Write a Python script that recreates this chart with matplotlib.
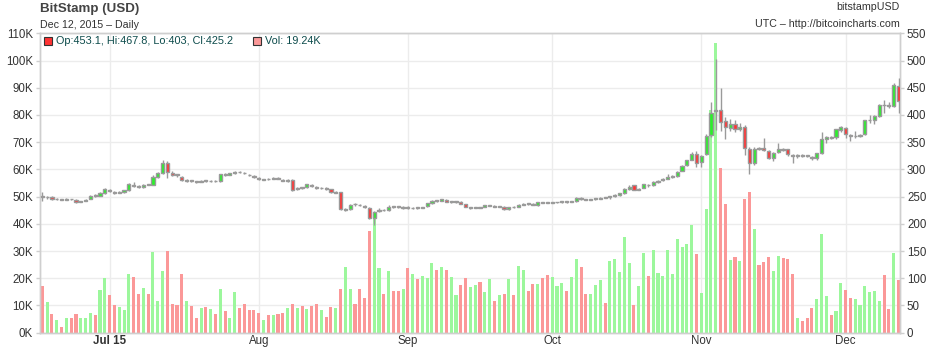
import matplotlib
matplotlib.use("Agg")
import matplotlib.pyplot as plt
import matplotlib.dates as mdates
from matplotlib.patches import Rectangle
import pandas as pd

plt.rcParams["font.family"] = ["Liberation Sans", "DejaVu Sans"]

# Daily BitStamp BTC/USD candles, 17 Jun 2015 - 12 Dec 2015
dates = pd.date_range("2015-06-17", "2015-12-12", freq="D")

opens = [
    249.9, 249.0, 249.9, 245.3, 244.8, 244.5, 245.8, 244.4, 240.7, 242.0,
    245.6, 252.0, 251.7, 257.2, 262.1, 258.5, 256.9, 258.5, 262.1, 271.9,
    269.0, 267.6, 272.2, 271.3, 286.6, 292.8, 311.1, 294.0, 290.0, 286.6,
    278.8, 279.2, 277.5, 277.0, 279.0, 278.3, 278.6, 278.0, 291.0, 290.5,
    292.6, 295.6, 294.0, 290.5, 287.6, 284.0, 281.3, 281.9, 282.9, 284.2,
    280.3, 278.0, 281.0, 263.7, 266.2, 266.8, 271.8, 267.5, 265.4, 266.4,
    263.3, 257.5, 257.8, 224.5, 226.5, 236.0, 235.0, 232.5, 229.6, 210.0,
    223.4, 225.5, 225.2, 231.5, 231.3, 229.8, 230.7, 228.5, 229.5, 229.5,
    232.5, 237.5, 242.8, 242.5, 243.7, 240.0, 240.1, 240.0, 235.7, 229.5,
    229.8, 230.2, 231.5, 233.5, 233.5, 231.2, 230.8, 226.6, 230.8, 231.5,
    235.5, 237.2, 236.5, 234.0, 239.5, 239.2, 238.5, 239.5, 240.0, 240.6,
    240.5, 241.7, 247.3, 245.0, 244.5, 245.7, 246.4, 248.8, 249.0, 250.5,
    253.0, 256.0, 264.5, 270.5, 262.7, 266.4, 271.5, 270.5, 276.6, 280.0,
    283.0, 285.5, 287.8, 297.7, 308.0, 318.0, 328.0, 314.1, 328.2, 362.4,
    408.0, 409.0, 389.5, 376.0, 383.4, 374.0, 378.5, 337.0, 311.0, 339.0,
    338.7, 333.6, 321.4, 332.0, 337.0, 336.9, 326.4, 325.0, 326.0, 325.0,
    322.8, 321.5, 329.5, 355.8, 359.0, 358.9, 372.4, 376.6, 363.0, 361.0,
    362.0, 364.4, 390.0, 390.7, 398.1, 418.0, 417.8, 416.6, 453.1,
]
highs = [
    257.8, 251.5, 251.0, 247.0, 246.0, 246.8, 246.5, 245.5, 242.8, 245.2,
    252.5, 254.0, 258.5, 266.5, 264.5, 260.5, 259.5, 263.0, 275.5, 276.5,
    271.0, 273.5, 274.0, 290.0, 296.0, 317.0, 315.0, 296.5, 292.0, 288.5,
    281.5, 280.5, 279.0, 280.0, 280.5, 280.0, 279.8, 292.0, 293.0, 294.0,
    297.5, 297.0, 295.5, 292.0, 289.5, 285.5, 283.0, 283.5, 285.5, 285.5,
    282.0, 281.5, 282.5, 267.0, 268.0, 273.5, 273.0, 269.0, 267.0, 268.0,
    264.5, 260.0, 259.0, 228.5, 236.0, 237.5, 236.5, 234.0, 231.0, 224.0,
    228.5, 227.0, 234.0, 233.0, 233.5, 232.0, 232.0, 230.0, 231.0, 231.5,
    239.0, 243.0, 244.5, 246.5, 245.0, 242.0, 241.5, 241.5, 237.0, 231.5,
    231.5, 231.5, 235.0, 235.5, 234.5, 233.0, 232.0, 231.0, 232.0, 236.5,
    238.5, 238.5, 237.5, 240.5, 241.0, 240.5, 240.0, 241.0, 241.5, 241.5,
    242.5, 248.5, 248.5, 246.5, 246.5, 247.5, 248.5, 250.0, 252.0, 254.5,
    257.0, 266.0, 271.5, 272.0, 265.5, 273.5, 273.0, 278.0, 280.5, 283.5,
    291.0, 289.0, 297.5, 308.5, 318.0, 331.5, 334.0, 327.0, 365.0, 423.0,
    502.0, 450.0, 397.0, 392.0, 390.0, 386.0, 382.0, 341.0, 342.0, 342.0,
    357.0, 336.0, 332.0, 349.0, 338.5, 338.0, 328.0, 328.0, 329.0, 326.5,
    324.5, 331.0, 369.0, 362.0, 362.0, 375.0, 379.0, 378.0, 364.5, 371.0,
    365.0, 391.5, 400.0, 399.0, 420.0, 427.0, 424.0, 458.0, 467.8,
]
lows = [
    242.0, 246.5, 244.5, 243.8, 243.5, 243.9, 244.2, 239.0, 239.5, 241.3,
    244.8, 250.0, 250.5, 255.5, 258.0, 255.5, 255.8, 257.5, 261.0, 268.5,
    266.5, 265.5, 270.5, 270.5, 285.0, 291.5, 283.5, 287.5, 286.5, 279.0,
    276.5, 277.0, 275.0, 276.0, 277.5, 277.0, 276.8, 277.0, 288.5, 289.0,
    291.0, 293.0, 291.5, 287.5, 284.0, 280.5, 280.0, 280.5, 281.5, 282.0,
    278.0, 277.0, 261.0, 262.0, 264.0, 265.5, 268.5, 264.5, 264.0, 262.0,
    257.5, 256.0, 225.0, 223.0, 225.5, 233.5, 232.5, 229.5, 208.5, 198.0,
    222.0, 223.5, 224.0, 229.5, 229.0, 228.0, 227.0, 227.0, 228.0, 228.5,
    231.5, 236.5, 240.5, 241.5, 239.5, 238.5, 238.5, 236.0, 230.0, 228.0,
    228.5, 228.5, 230.5, 232.0, 230.0, 230.0, 226.0, 225.5, 229.5, 230.5,
    234.5, 235.5, 234.5, 233.0, 238.0, 237.5, 237.5, 238.5, 239.0, 239.0,
    239.5, 240.5, 243.5, 243.5, 243.5, 244.5, 245.5, 247.0, 246.5, 249.5,
    252.0, 255.0, 263.0, 261.5, 261.5, 265.0, 268.5, 269.5, 275.5, 279.0,
    282.0, 284.0, 286.5, 296.5, 306.5, 316.5, 304.0, 304.5, 326.0, 360.0,
    372.0, 371.0, 355.0, 370.0, 368.0, 370.0, 326.0, 292.0, 308.0, 335.0,
    334.0, 318.5, 316.0, 330.0, 334.0, 325.0, 311.0, 321.0, 322.5, 322.0,
    317.0, 318.0, 328.0, 348.0, 355.0, 356.0, 368.0, 357.0, 352.0, 358.0,
    359.0, 362.5, 386.0, 384.0, 396.0, 404.0, 413.0, 414.0, 403.0,
]
closes = [
    249.6, 249.5, 245.6, 245.6, 244.3, 245.6, 245.3, 240.7, 241.9, 244.4,
    251.7, 251.3, 257.2, 263.4, 259.7, 256.6, 257.5, 262.1, 272.5, 269.5,
    268.1, 271.9, 271.6, 286.6, 292.8, 311.1, 294.6, 289.1, 289.5, 280.5,
    279.5, 278.5, 276.8, 278.7, 278.5, 278.8, 277.8, 290.7, 290.5, 292.6,
    295.6, 294.4, 292.6, 289.0, 285.2, 281.5, 281.7, 281.5, 284.2, 283.0,
    279.0, 280.5, 262.5, 265.6, 265.8, 272.4, 270.0, 265.6, 265.8, 263.3,
    259.0, 257.8, 226.5, 226.5, 234.5, 235.8, 234.0, 231.5, 210.0, 222.2,
    225.2, 225.0, 231.3, 231.3, 231.0, 230.3, 228.2, 228.8, 229.2, 230.1,
    237.5, 241.7, 242.4, 245.0, 240.7, 240.3, 240.5, 237.0, 231.5, 230.3,
    230.5, 229.5, 234.0, 233.9, 231.0, 231.6, 227.1, 230.2, 230.3, 235.5,
    237.0, 236.8, 235.5, 239.3, 239.0, 238.8, 239.0, 240.0, 240.3, 240.2,
    241.5, 246.7, 245.0, 244.3, 245.5, 246.2, 247.4, 248.3, 250.5, 253.0,
    256.0, 264.5, 268.0, 262.7, 264.0, 272.5, 270.5, 276.6, 279.0, 282.5,
    286.0, 287.5, 295.7, 306.6, 316.5, 328.7, 312.3, 325.3, 361.9, 404.0,
    410.0, 387.0, 377.0, 383.4, 374.0, 378.5, 339.0, 312.4, 337.5, 338.0,
    335.6, 321.4, 330.0, 336.9, 336.0, 328.3, 324.6, 326.0, 325.5, 324.5,
    321.5, 329.5, 355.3, 358.9, 358.5, 373.6, 377.2, 364.9, 361.2, 362.0,
    363.0, 390.1, 391.0, 397.5, 418.9, 417.5, 417.3, 454.6, 425.2,
]
volumes_k = [
    17.0, 11.2, 6.8, 4.5, 2.0, 5.3, 5.3, 6.8, 5.3, 5.3,
    7.1, 6.5, 15.6, 20.0, 13.8, 10.1, 9.3, 8.2, 21.4, 20.3,
    14.1, 16.3, 14.1, 29.6, 11.8, 22.5, 30.0, 10.4, 10.1, 21.4,
    11.6, 9.7, 5.3, 9.0, 9.3, 8.6, 6.8, 15.9, 7.9, 5.3,
    14.9, 8.9, 10.4, 8.3, 8.2, 7.1, 4.5, 6.4, 6.4, 6.8,
    7.2, 9.0, 10.5, 9.0, 9.7, 8.6, 9.7, 10.7, 8.2, 5.6,
    9.6, 8.9, 16.2, 24.3, 15.9, 10.4, 15.9, 12.9, 37.4, 42.0,
    23.9, 14.4, 22.8, 15.5, 15.5, 15.9, 23.9, 21.7, 19.9, 21.0,
    20.2, 25.7, 23.2, 24.3, 23.2, 20.6, 14.0, 17.7, 20.0, 16.9,
    17.5, 18.6, 14.9, 19.7, 11.6, 13.8, 14.2, 19.7, 13.8, 24.5,
    23.0, 15.3, 17.9, 17.9, 20.1, 21.2, 20.5, 17.2, 18.3, 15.3,
    20.5, 27.1, 24.1, 14.2, 14.2, 17.5, 19.3, 10.9, 26.5, 27.1,
    22.4, 35.2, 25.7, 10.3, 17.2, 29.4, 20.8, 30.4, 21.9, 20.8,
    30.4, 21.6, 34.4, 31.5, 32.7, 39.6, 28.9, 14.6, 45.5, 82.0,
    106.4, 60.5, 47.3, 26.7, 27.8, 26.5, 49.1, 51.7, 38.1, 24.9,
    26.0, 27.8, 22.7, 28.2, 27.5, 27.1, 21.6, 5.4, 4.3, 5.4,
    9.1, 12.4, 36.3, 13.5, 6.5, 8.0, 18.3, 15.7, 12.7, 12.4,
    10.2, 17.2, 15.0, 15.3, 11.6, 21.2, 8.7, 29.3, 19.24,
]

month_starts = ["2015-07-01", "2015-08-01", "2015-09-01",
                "2015-10-01", "2015-11-01", "2015-12-01"]
month_labels = ["Jul 15", "Aug", "Sep", "Oct", "Nov", "Dec"]
vol_ticks = [0, 10, 20, 30, 40, 50, 60, 70, 80, 90, 100, 110]
price_ticks = [0, 50, 100, 150, 200, 250, 300, 350, 400, 450, 500, 550]

# colours
UP_BODY, DOWN_BODY = "#2af02a", "#ff3333"
UP_VOL, DOWN_VOL = "#9cf79c", "#fb9898"
EDGE = "#9a9a9a"
GRID = "#ececec"
AXIS = "#cfcfcf"
TXT = "#333333"

W, H = 940, 348
fig = plt.figure(figsize=(W / 100, H / 100), dpi=100)
fig.patch.set_facecolor("white")

left, right, top, bottom = 40, 900, 33.3, 332.7
ax = fig.add_axes([left / W, 1 - bottom / H, (right - left) / W, (bottom - top) / H])
ax2 = ax.twinx()

x = mdates.date2num(dates)
up = [c >= o for o, c in zip(opens, closes)]

# volume bars on the left axis
ax.bar(x, [v * 1000 for v in volumes_k], width=0.64,
       color=[UP_VOL if u else DOWN_VOL for u in up], linewidth=0, zorder=2)

# candles on the right axis
ax2.vlines(x, lows, highs, color=EDGE, linewidth=1.0, zorder=3)
body_bottom = [min(o, c) for o, c in zip(opens, closes)]
body_height = [max(abs(c - o), 1.2) for o, c in zip(opens, closes)]
ax2.bar(x, body_height, bottom=body_bottom, width=0.66,
        color=[UP_BODY if u else DOWN_BODY for u in up],
        edgecolor=EDGE, linewidth=1.0, zorder=4)

x0 = x[0] - 0.48
x1 = x[-1] + 0.31
ax.set_xlim(x0, x1)
ax.set_ylim(0, 110000)
ax2.set_ylim(0, 550)

# grid
ax.set_yticks([v * 1000 for v in vol_ticks])
ax.set_yticklabels([f"{v}K" for v in vol_ticks])
ax2.set_yticks(price_ticks)
ax2.set_yticklabels([str(p) for p in price_ticks])
mticks = mdates.date2num(pd.to_datetime(month_starts))
ax.set_xticks(mticks)
ax.set_xticklabels(month_labels)
ax.grid(True, color=GRID, linewidth=1.0, zorder=0)
ax.set_axisbelow(True)

for a in (ax, ax2):
    for s in a.spines.values():
        s.set_color(AXIS)
        s.set_linewidth(1.0)
ax.tick_params(axis="y", length=3, width=1, color=AXIS, labelsize=8.3,
               labelcolor=TXT, pad=2)
ax2.tick_params(axis="y", length=3, width=1, color=AXIS, labelsize=8.3,
                labelcolor=TXT, pad=2)
ax.tick_params(axis="x", length=0, labelsize=8.3, labelcolor=TXT, pad=2)
ax.get_xticklabels()[0].set_fontweight("bold")

# header texts
def px(xp, yp):
    return xp / W, 1 - yp / H

fig.text(*px(40, 9), "BitStamp (USD)", fontsize=9.6, fontweight="bold",
         color="#444444", va="center", ha="left")
fig.text(*px(40, 25), "Dec 12, 2015 \u2013 Daily", fontsize=7.7,
         color=TXT, va="center", ha="left")
fig.text(*px(900, 7), "bitstampUSD", fontsize=7.7, color=TXT,
         va="center", ha="right")
fig.text(*px(900, 24), "UTC \u2013 http://bitcoincharts.com", fontsize=7.7,
         color=TXT, va="center", ha="right")

# legend with last candle values
LEG = "#0c4b4b"
def square(xp, yp, color):
    r = Rectangle(((xp) / W, 1 - (yp + 8) / H), 8 / W, 8 / H,
                  transform=fig.transFigure, facecolor=color,
                  edgecolor="#333333", linewidth=0.8, zorder=10)
    fig.patches.append(r)

square(44, 37, DOWN_BODY)
fig.text(*px(56, 41.5),
         f"Op:{opens[-1]:g}, Hi:{highs[-1]:g}, Lo:{lows[-1]:g}, Cl:{closes[-1]:g}",
         fontsize=7.8, color=LEG, va="center", ha="left")
square(253, 37, DOWN_VOL)
fig.text(*px(265, 41.5), f"Vol: {volumes_k[-1]:g}K", fontsize=7.8,
         color=LEG, va="center", ha="left")

fig.savefig("out.png", dpi=100, facecolor="white")
